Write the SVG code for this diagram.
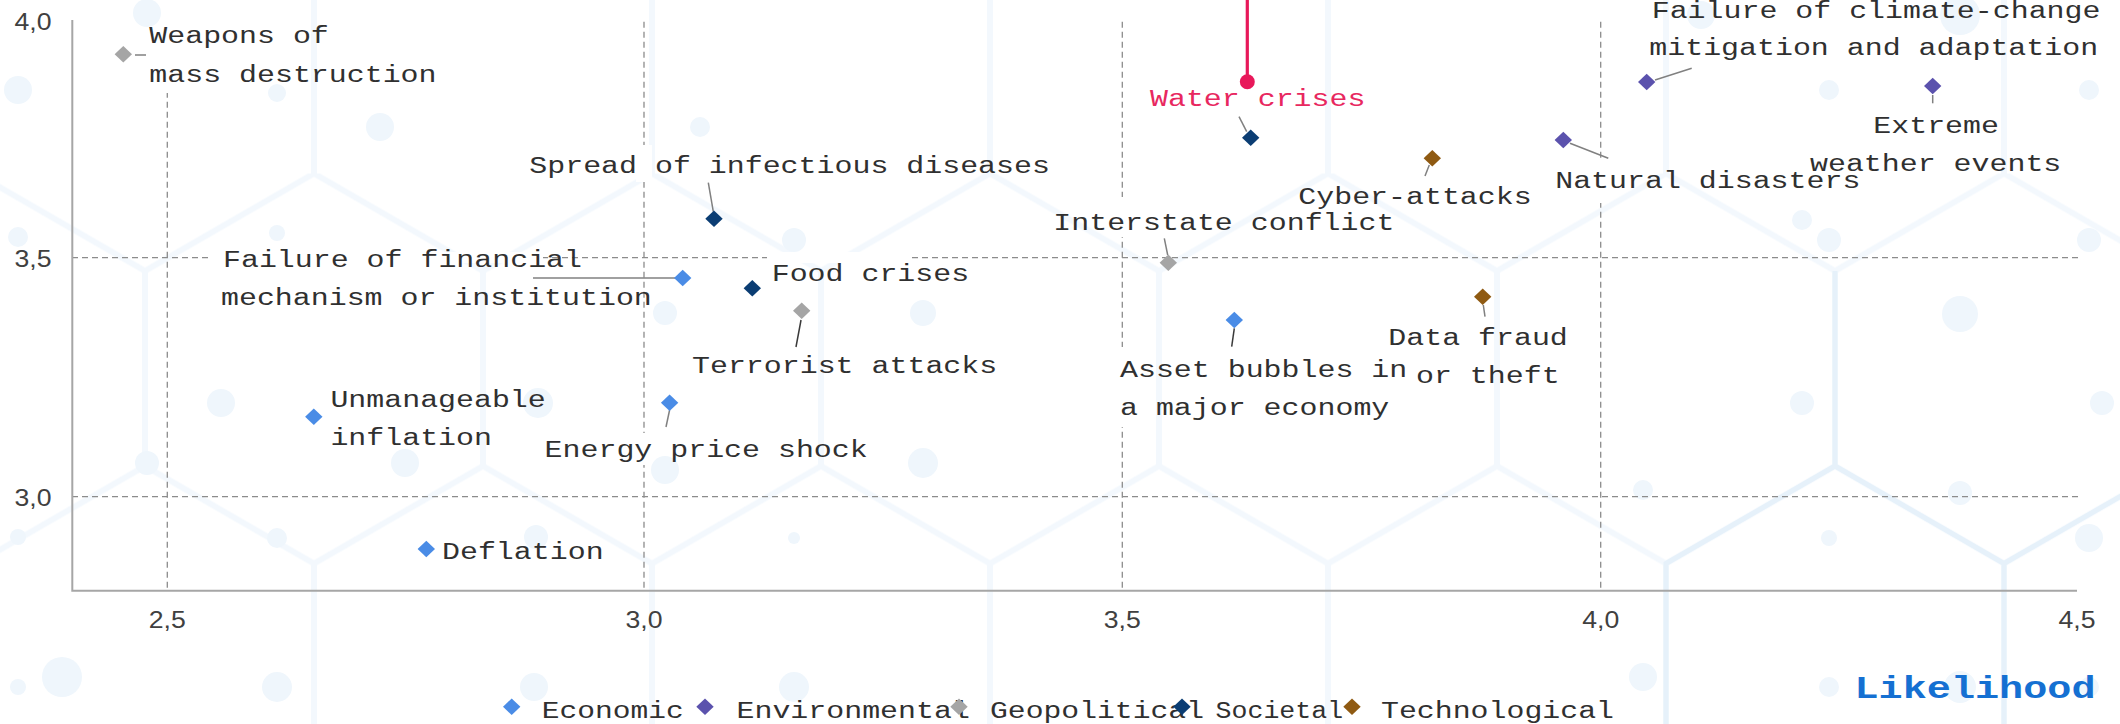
<svg xmlns="http://www.w3.org/2000/svg" width="2120" height="724" viewBox="0 0 2120 724">
<defs>
<style>
.lbl{font-family:"Liberation Mono","Courier New",monospace;font-size:23px;fill:#303030}
.tick{font-family:"Liberation Sans",Arial,sans-serif;font-size:23px;fill:#404040}
.grid{stroke:#8c8c8c;stroke-width:1.3;stroke-dasharray:6 4;fill:none}
.axis{stroke:#a6a6a6;stroke-width:2;fill:none}
.lead{stroke:#808080;stroke-width:1.5;fill:none}
.lead-dk{stroke:#3a3a3a;stroke-width:1.5;fill:none}
.gap{fill:#fff}
.eco{fill:#4a8ce6}.env{fill:#5b52ad}.geo{fill:#a5a5a5}.soc{fill:#0b3d73}.tec{fill:#8f5a12}
.dot{fill:#eff6fc}
</style>
<path id="dm" d="M0 -8.3L8.7 0L0 8.3L-8.7 0Z"/>
<pattern id="hex" patternUnits="userSpaceOnUse" x="145" y="173.5" width="338" height="585">
<path d="M169 0L338 97.5L338 292.5L169 390L0 292.5L0 97.5Z M169 390L169 585" fill="none" stroke="#f3f8fd" stroke-width="6"/>
</pattern>
</defs>

<!-- backdrop: faint hexagon network -->
<rect width="2120" height="724" fill="#fff"/>
<rect width="2120" height="724" fill="url(#hex)"/>
<path d="M1666 758L1666 563.5L1835 466L2004 563.5L2004 758 M1835 466L1835 271 M2004 563.5L2173 466" fill="none" stroke="#e6f1fa" stroke-width="5"/>
<g id="dots">
<circle class="dot" cx="18" cy="90" r="14"/><circle class="dot" cx="147" cy="13" r="14"/>
<circle class="dot" cx="277" cy="93" r="9"/><circle class="dot" cx="380" cy="127" r="14"/>
<circle class="dot" cx="277" cy="233" r="8"/><circle class="dot" cx="18" cy="237" r="10"/>
<circle class="dot" cx="700" cy="127" r="10"/><circle class="dot" cx="794" cy="240" r="12"/>
<circle class="dot" cx="665" cy="313" r="12"/><circle class="dot" cx="923" cy="313" r="13"/>
<circle class="dot" cx="221" cy="403" r="14"/><circle class="dot" cx="538" cy="403" r="15"/>
<circle class="dot" cx="405" cy="463" r="14"/><circle class="dot" cx="147" cy="463" r="12"/>
<circle class="dot" cx="665" cy="470" r="14"/><circle class="dot" cx="923" cy="463" r="15"/>
<circle class="dot" cx="536" cy="537" r="12"/><circle class="dot" cx="277" cy="538" r="10"/>
<circle class="dot" cx="18" cy="537" r="8"/><circle class="dot" cx="794" cy="538" r="6"/>
<circle class="dot" cx="18" cy="687" r="8"/><circle class="dot" cx="62" cy="677" r="20"/>
<circle class="dot" cx="277" cy="687" r="15"/><circle class="dot" cx="534" cy="687" r="14"/>
<circle class="dot" cx="794" cy="687" r="15"/>
<circle class="dot" cx="1701" cy="15" r="14"/><circle class="dot" cx="1960" cy="15" r="20"/>
<circle class="dot" cx="1829" cy="90" r="10"/><circle class="dot" cx="2089" cy="90" r="10"/>
<circle class="dot" cx="1802" cy="220" r="10"/><circle class="dot" cx="1829" cy="240" r="12"/>
<circle class="dot" cx="2089" cy="240" r="12"/><circle class="dot" cx="1960" cy="314" r="18"/>
<circle class="dot" cx="1802" cy="403" r="12"/><circle class="dot" cx="2102" cy="403" r="12"/>
<circle class="dot" cx="1643" cy="490" r="10"/><circle class="dot" cx="1960" cy="493" r="12"/>
<circle class="dot" cx="1829" cy="538" r="8"/><circle class="dot" cx="2089" cy="538" r="14"/>
<circle class="dot" cx="1643" cy="677" r="14"/><circle class="dot" cx="1829" cy="687" r="10"/>
<circle class="dot" cx="1960" cy="687" r="16"/><circle class="dot" cx="2089" cy="687" r="10"/>
</g>

<!-- gridlines -->
<g id="grid">
<path class="grid" d="M72 257.7H2078 M72 496.7H2078"/>
<path class="grid" d="M167.3 21.7V590.7 M644 21.7V590.7 M1122.3 21.7V590.7 M1600.7 21.7V590.7"/>
</g>

<!-- axes and tick labels -->
<g id="axes">
<path class="axis" d="M72.3 20V590.7H2077"/>
<text class="tick" x="51.5" y="30" text-anchor="end" textLength="37" lengthAdjust="spacingAndGlyphs">4,0</text>
<text class="tick" x="51.5" y="266.5" text-anchor="end" textLength="37" lengthAdjust="spacingAndGlyphs">3,5</text>
<text class="tick" x="51.5" y="505.5" text-anchor="end" textLength="37" lengthAdjust="spacingAndGlyphs">3,0</text>
<text class="tick" x="148.8" y="628.3" textLength="37" lengthAdjust="spacingAndGlyphs">2,5</text>
<text class="tick" x="625.5" y="628.3" textLength="37" lengthAdjust="spacingAndGlyphs">3,0</text>
<text class="tick" x="1103.8" y="628.3" textLength="37" lengthAdjust="spacingAndGlyphs">3,5</text>
<text class="tick" x="1582.2" y="628.3" textLength="37" lengthAdjust="spacingAndGlyphs">4,0</text>
<text class="tick" x="2058.5" y="628.3" textLength="37" lengthAdjust="spacingAndGlyphs">4,5</text>
</g>

<!-- label leader lines -->
<g id="connectors">
<path class="lead" d="M135 55H146"/>
<path class="lead" d="M708.3 182.7L713.3 211.7"/>
<path class="lead" d="M533 278H676.7"/>
<path class="lead-dk" d="M801 320L796 347"/>
<path class="lead" d="M669.6 410L666 427"/>
<path class="lead" d="M1164.3 238.3L1167.7 255"/>
<path class="lead-dk" d="M1234.3 328.3L1231.7 346.7"/>
<path class="lead" d="M1483.3 305L1485 316.7"/>
<path class="lead" d="M1239 116.7L1246.7 131.7"/>
<path class="lead" d="M1429.3 165L1425 176"/>
<path class="lead" d="M1655 80L1691.7 68.3"/>
<path class="lead" d="M1932.7 95V103.3"/>
<path class="lead" d="M1570 143.3L1608.3 158.3"/>
</g>

<g id="n-weapons">
<rect class="gap" x="160" y="18" width="15" height="75"/>
<use href="#dm" x="123.3" y="54.3" class="geo"/>
<text class="lbl" x="149.3" y="43.3" textLength="179.5" lengthAdjust="spacingAndGlyphs">Weapons of</text>
<text class="lbl" x="149.3" y="81.7" textLength="287.2" lengthAdjust="spacingAndGlyphs">mass destruction</text>
</g>

<g id="n-infectious">
<rect class="gap" x="636" y="145" width="16" height="37"/>
<use href="#dm" x="714" y="218.7" class="soc"/>
<text class="lbl" x="529.3" y="173.3" textLength="520.6" lengthAdjust="spacingAndGlyphs">Spread of infectious diseases</text>
</g>

<g id="n-financial">
<rect class="gap" x="210" y="252" width="333" height="11"/>
<use href="#dm" x="682.7" y="278" class="eco"/>
<text class="lbl" x="223" y="266.5" textLength="359" lengthAdjust="spacingAndGlyphs">Failure of financial</text>
<text class="lbl" x="221" y="304.5" textLength="430.8" lengthAdjust="spacingAndGlyphs">mechanism or institution</text>
</g>

<g id="n-food">
<rect class="gap" x="767" y="252" width="143" height="11"/>
<use href="#dm" x="752.3" y="288.3" class="soc"/>
<text class="lbl" x="771.7" y="280.7" textLength="197.5" lengthAdjust="spacingAndGlyphs">Food crises</text>
</g>

<g id="n-terrorist">
<use href="#dm" x="801.7" y="310.7" class="geo"/>
<text class="lbl" x="692" y="372.5" textLength="305.2" lengthAdjust="spacingAndGlyphs">Terrorist attacks</text>
</g>

<g id="n-energy">
<rect class="gap" x="636" y="433" width="16" height="32"/>
<use href="#dm" x="669.6" y="402.7" class="eco"/>
<text class="lbl" x="544.6" y="457" textLength="323.1" lengthAdjust="spacingAndGlyphs">Energy price shock</text>
</g>

<g id="n-inflation">
<use href="#dm" x="313.8" y="416.7" class="eco"/>
<text class="lbl" x="330.4" y="407.3" textLength="215.4" lengthAdjust="spacingAndGlyphs">Unmanageable</text>
<text class="lbl" x="330.4" y="445" textLength="161.6" lengthAdjust="spacingAndGlyphs">inflation</text>
</g>

<g id="n-deflation">
<use href="#dm" x="426.3" y="549" class="eco"/>
<text class="lbl" x="442" y="559.3" textLength="161.6" lengthAdjust="spacingAndGlyphs">Deflation</text>
</g>

<g id="n-interstate">
<rect class="gap" x="1114" y="197" width="16" height="40"/>
<use href="#dm" x="1168.3" y="262.7" class="geo"/>
<text class="lbl" x="1053.3" y="230" textLength="341.1" lengthAdjust="spacingAndGlyphs">Interstate conflict</text>
</g>

<g id="n-asset">
<rect class="gap" x="1114" y="347" width="16" height="80"/>
<use href="#dm" x="1234.3" y="320" class="eco"/>
<text class="lbl" x="1120" y="376.7" textLength="287.2" lengthAdjust="spacingAndGlyphs">Asset bubbles in</text>
<text class="lbl" x="1120" y="415" textLength="269.3" lengthAdjust="spacingAndGlyphs">a major economy</text>
</g>

<g id="n-datafraud">
<use href="#dm" x="1482.7" y="296.7" class="tec"/>
<text class="lbl" x="1388.3" y="345" textLength="179.5" lengthAdjust="spacingAndGlyphs">Data fraud</text>
<text class="lbl" x="1416" y="383.3" textLength="143.6" lengthAdjust="spacingAndGlyphs">or theft</text>
</g>

<g id="n-water">
<path d="M1247.3 0V81.7" stroke="#e8185a" stroke-width="3.2" fill="none"/>
<circle cx="1247.3" cy="81.7" r="7.5" fill="#e8185a"/>
<use href="#dm" x="1250.7" y="137.7" class="soc"/>
<text class="lbl" x="1150" y="106" textLength="215.4" lengthAdjust="spacingAndGlyphs" style="fill:#e8285f">Water crises</text>
</g>

<g id="n-cyber">
<use href="#dm" x="1432.3" y="158.3" class="tec"/>
<text class="lbl" x="1298.3" y="203.5" textLength="233.4" lengthAdjust="spacingAndGlyphs">Cyber-attacks</text>
</g>

<g id="n-climate">
<use href="#dm" x="1646.7" y="82" class="env"/>
<text class="lbl" x="1651.7" y="17.5" textLength="448.8" lengthAdjust="spacingAndGlyphs">Failure of climate-change</text>
<text class="lbl" x="1649.3" y="55" textLength="448.8" lengthAdjust="spacingAndGlyphs">mitigation and adaptation</text>
</g>

<g id="n-extreme">
<use href="#dm" x="1932.7" y="86" class="env"/>
<text class="lbl" x="1873.3" y="133.3" textLength="125.7" lengthAdjust="spacingAndGlyphs">Extreme</text>
<text class="lbl" x="1810" y="170.7" textLength="251.3" lengthAdjust="spacingAndGlyphs">weather events</text>
</g>

<g id="n-natural">
<rect class="gap" x="1592" y="160" width="17" height="43"/>
<use href="#dm" x="1563.3" y="140" class="env"/>
<text class="lbl" x="1555.2" y="188.3" textLength="305.2" lengthAdjust="spacingAndGlyphs">Natural disasters</text>
</g>

<!-- legend -->
<g id="legend">
<use href="#dm" x="511.7" y="706.7" class="eco"/>
<text class="lbl" x="541.7" y="718" textLength="142" lengthAdjust="spacingAndGlyphs">Economic</text>
<use href="#dm" x="705" y="706.7" class="env"/>
<text class="lbl" x="736.5" y="718" textLength="233.4" lengthAdjust="spacingAndGlyphs">Environmental</text>
<use href="#dm" x="959" y="706.7" class="geo"/>
<text class="lbl" x="990" y="718" textLength="214" lengthAdjust="spacingAndGlyphs">Geopolitical</text>
<use href="#dm" x="1182" y="706.7" class="soc"/>
<text class="lbl" x="1215.6" y="718" textLength="127.5" lengthAdjust="spacingAndGlyphs">Societal</text>
<use href="#dm" x="1352" y="706.7" class="tec"/>
<text class="lbl" x="1381" y="718" textLength="233" lengthAdjust="spacingAndGlyphs">Technological</text>
</g>

<text id="axis-title" x="1854.5" y="698.3" textLength="241" lengthAdjust="spacingAndGlyphs" style="font-family:'Liberation Mono','Courier New',monospace;font-size:31px;font-weight:bold;fill:#1570d2">Likelihood</text>
</svg>
